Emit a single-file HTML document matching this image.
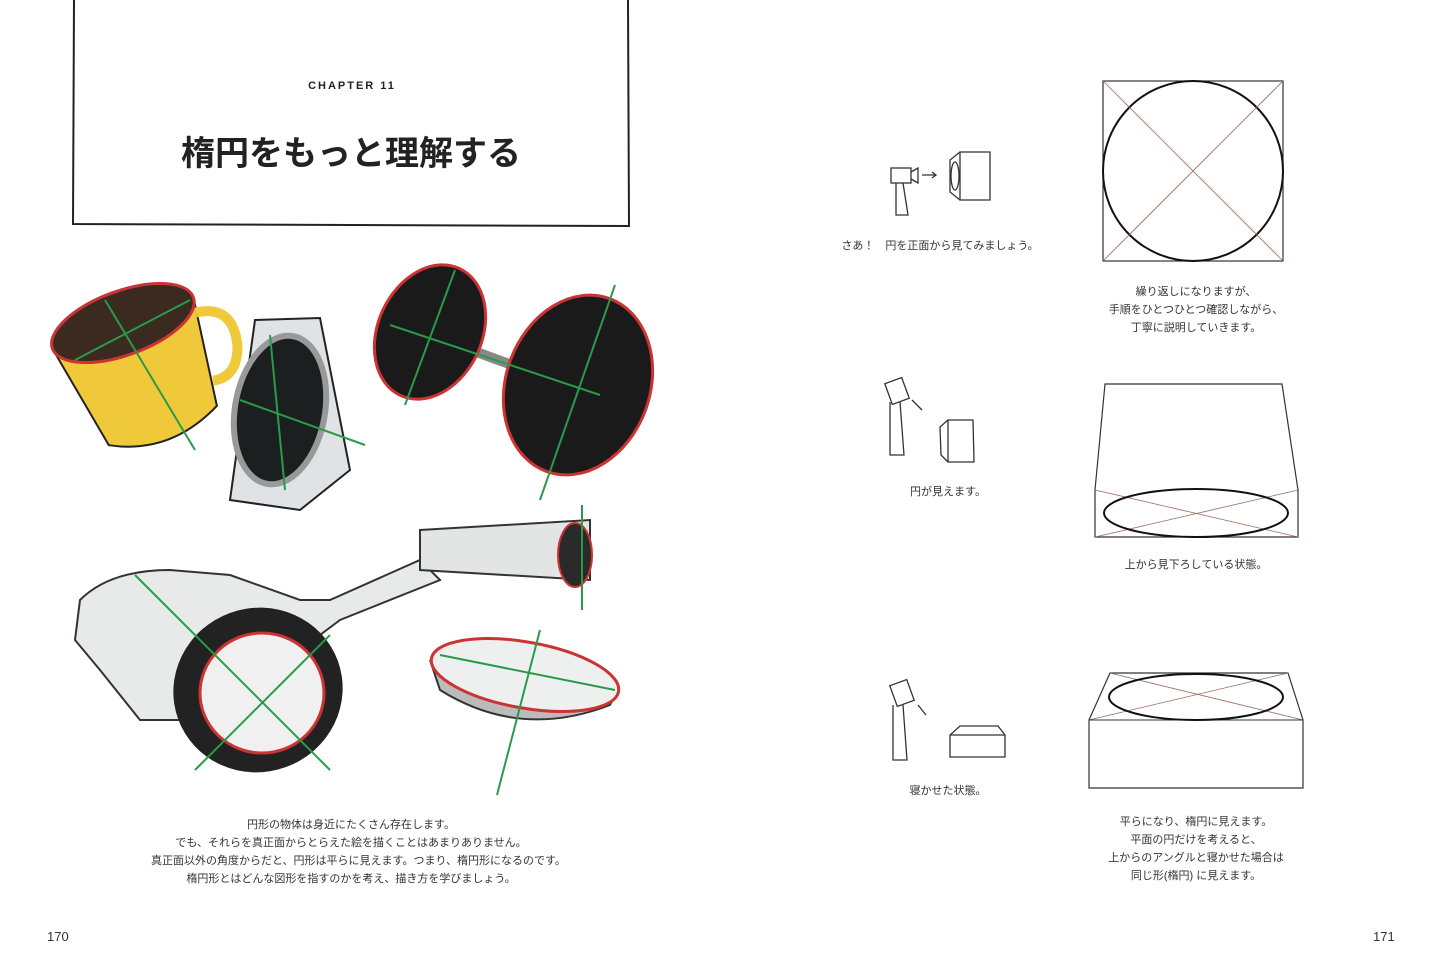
<!DOCTYPE html>
<html><head><meta charset="utf-8"><style>
html,body{margin:0;padding:0;background:#fff;}
body{width:1445px;height:977px;position:relative;overflow:hidden;font-family:"Liberation Sans","Noto Sans CJK JP",sans-serif;color:#333;}
.t{position:absolute;font-size:11px;line-height:18px;text-align:center;white-space:nowrap;}
</style></head><body>
<svg width="1445" height="977" style="position:absolute;left:0;top:0" xmlns="http://www.w3.org/2000/svg">
<path d="M74,0 L73,224 L629,226 L628,0" fill="none" stroke="#222" stroke-width="2"/>
<g transform="rotate(-20 140 370)">
<path d="M65,320 L85,430 Q140,460 200,430 L215,320 Z" fill="#f0c93a" stroke="#222" stroke-width="2"/>
<ellipse cx="140" cy="320" rx="75" ry="32" fill="#3a2a20" stroke="#c33" stroke-width="3"/>
<path d="M212,335 Q250,340 240,380 Q230,410 205,405" fill="none" stroke="#f0c93a" stroke-width="10"/>
</g>
<line x1="105" y1="300" x2="195" y2="450" stroke="#2a9a4a" stroke-width="2"/>
<line x1="75" y1="360" x2="190" y2="300" stroke="#2a9a4a" stroke-width="2"/>
<path d="M255,320 L320,318 L350,470 L300,510 L230,500 Z" fill="#dfe3e6" stroke="#222" stroke-width="2"/>
<ellipse cx="280" cy="410" rx="45" ry="75" transform="rotate(10 280 410)" fill="#1c1f1f" stroke="#999" stroke-width="6"/>
<line x1="270" y1="335" x2="285" y2="490" stroke="#2a9a4a" stroke-width="2"/>
<line x1="240" y1="400" x2="365" y2="445" stroke="#2a9a4a" stroke-width="2"/>
<line x1="430" y1="335" x2="580" y2="390" stroke="#888" stroke-width="10"/>
<ellipse cx="430" cy="332" rx="52" ry="70" transform="rotate(25 430 332)" fill="#1a1a1a" stroke="#c33" stroke-width="3"/>
<ellipse cx="578" cy="385" rx="72" ry="92" transform="rotate(20 578 385)" fill="#1a1a1a" stroke="#c33" stroke-width="3"/>
<line x1="455" y1="270" x2="405" y2="405" stroke="#2a9a4a" stroke-width="2"/>
<line x1="615" y1="285" x2="540" y2="500" stroke="#2a9a4a" stroke-width="2"/>
<line x1="390" y1="325" x2="600" y2="395" stroke="#2a9a4a" stroke-width="2"/>
<path d="M80,600 Q110,570 170,570 L230,575 L300,600 L330,600 L420,560 L440,580 L340,620 L300,650 L270,720 L140,720 L100,670 L75,640 Z" fill="#e8eaea" stroke="#333" stroke-width="2"/>
<path d="M420,530 L590,520 L590,580 L420,570 Z" fill="#e3e5e5" stroke="#333" stroke-width="2"/>
<ellipse cx="575" cy="555" rx="17" ry="32" fill="#2a2a2a" stroke="#c33" stroke-width="2"/>
<ellipse cx="258" cy="690" rx="85" ry="82" transform="rotate(-20 258 690)" fill="#222"/>
<ellipse cx="262" cy="693" rx="62" ry="60" fill="#f0f0f0" stroke="#c33" stroke-width="3"/>
<line x1="135" y1="575" x2="330" y2="770" stroke="#2a9a4a" stroke-width="2"/>
<line x1="195" y1="770" x2="330" y2="635" stroke="#2a9a4a" stroke-width="2"/>
<line x1="582" y1="505" x2="582" y2="610" stroke="#2a9a4a" stroke-width="2"/>
<path d="M430,660 L440,690 Q520,740 610,705 L618,690" fill="#bbb" stroke="#333" stroke-width="2"/>
<ellipse cx="525" cy="675" rx="95" ry="33" transform="rotate(10 525 675)" fill="#eef0f0" stroke="#c33" stroke-width="3"/>
<line x1="540" y1="630" x2="497" y2="795" stroke="#2a9a4a" stroke-width="2"/>
<line x1="440" y1="655" x2="615" y2="690" stroke="#2a9a4a" stroke-width="2"/>
<g fill="none" stroke="#333">
<rect x="1103" y="81" width="180" height="180" stroke-width="1.2"/>
<circle cx="1193" cy="171" r="90" stroke="#111" stroke-width="2"/>
<line x1="1103" y1="81" x2="1283" y2="261" stroke="#9a6a5a" stroke-width="0.8"/>
<line x1="1283" y1="81" x2="1103" y2="261" stroke="#9a6a5a" stroke-width="0.8"/>
<path d="M1105,384 L1282,384 L1298,490 L1298,537 L1095,537 L1095,490 Z" stroke-width="1.2"/>
<line x1="1095" y1="490" x2="1298" y2="537" stroke="#9a6a5a" stroke-width="0.8"/>
<line x1="1298" y1="490" x2="1095" y2="537" stroke="#9a6a5a" stroke-width="0.8"/>
<ellipse cx="1196" cy="513" rx="92" ry="24" stroke="#111" stroke-width="2"/>
<path d="M1110,673 L1288,673 L1303,720 L1303,788 L1089,788 L1089,720 Z" stroke-width="1.2"/>
<line x1="1110" y1="673" x2="1303" y2="720" stroke="#9a6a5a" stroke-width="0.8"/>
<line x1="1288" y1="673" x2="1089" y2="720" stroke="#9a6a5a" stroke-width="0.8"/>
<line x1="1089" y1="720" x2="1303" y2="720" stroke-width="1"/>
<ellipse cx="1196" cy="697" rx="87" ry="23" stroke="#111" stroke-width="2"/>
<g stroke-width="1.3">
<rect x="891" y="168" width="20" height="15"/><path d="M911,172 L918,168 L918,183 L911,179"/>
<path d="M896,183 L896,215 L908,215 L903,183"/><path d="M922,175 L936,175 M932,172 L936,175 L932,178"/>
<path d="M960,152 L990,152 L990,200 L960,200 Z M960,152 L950,160 L950,192 L960,200"/><ellipse cx="955" cy="176" rx="4" ry="14"/>
<rect x="888" y="380" width="18" height="22" transform="rotate(-20 897 391)"/>
<path d="M890,402 L890,455 L904,455 L900,402"/><path d="M912,400 L922,410"/>
<path d="M948,420 L973,420 L974,462 L948,462 Z M948,420 L940,427 L941,455 L948,462"/>
<rect x="893" y="682" width="18" height="22" transform="rotate(-20 902 693)"/>
<path d="M893,705 L893,760 L907,760 L903,705"/><path d="M918,705 L926,715"/>
<path d="M960,726 L998,726 L1005,735 L1005,757 L950,757 L950,735 Z M950,735 L1005,735"/>
</g>
</g>
</svg>
<div class="t" style="left:0;width:704px;top:77px;font-size:11px;letter-spacing:2px;font-weight:bold;color:#222">CHAPTER 11</div>
<div class="t" style="left:0;width:702px;top:132px;font-size:34px;line-height:44px;font-weight:bold;color:#222">楕円をもっと理解する</div>
<div class="t" style="left:151px;width:400px;top:816px">円形の物体は身近にたくさん存在します。<br>でも、それらを真正面からとらえた絵を描くことはあまりありません。<br>真正面以外の角度からだと、円形は平らに見えます。つまり、楕円形になるのです。<br>楕円形とはどんな図形を指すのかを考え、描き方を学びましょう。</div>
<div class="t" style="left:840px;width:200px;top:237px">さあ！　円を正面から見てみましょう。</div>
<div class="t" style="left:1046px;width:300px;top:283px">繰り返しになりますが、<br>手順をひとつひとつ確認しながら、<br>丁寧に説明していきます。</div>
<div class="t" style="left:848px;width:200px;top:483px">円が見えます。</div>
<div class="t" style="left:1046px;width:300px;top:556px">上から見下ろしている状態。</div>
<div class="t" style="left:848px;width:200px;top:782px">寝かせた状態。</div>
<div class="t" style="left:1046px;width:300px;top:813px">平らになり、楕円に見えます。<br>平面の円だけを考えると、<br>上からのアングルと寝かせた場合は<br>同じ形(楕円) に見えます。</div>
<div class="t" style="left:47px;top:928px;font-size:13px">170</div>
<div class="t" style="left:1373px;top:928px;font-size:13px">171</div>
</body></html>
